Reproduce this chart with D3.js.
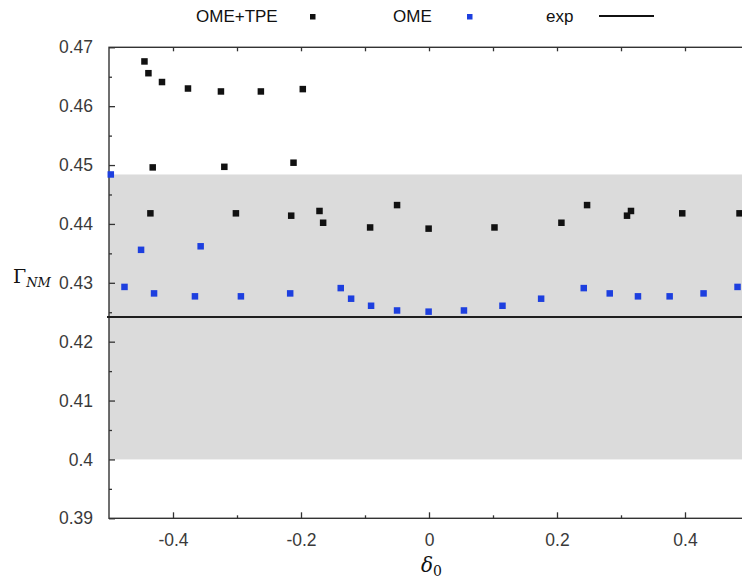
<!DOCTYPE html>
<html>
<head>
<meta charset="utf-8">
<script src="https://cdn.jsdelivr.net/npm/d3@7"></script>
<style>
  html, body { margin: 0; padding: 0; background: #fff; overflow: hidden; }
  svg { display: block; }
  .tick text { font-family: "Liberation Sans", Arial, sans-serif; font-size: 17.5px; fill: #3a3a3a; }
</style>
</head>
<body>
<svg id="chart" width="742" height="585"></svg>
<script>
// OME+TPE results
const tpeX = [-0.4446, -0.4384, -0.4172, -0.3766, -0.3251, -0.2627, -0.1972,
              -0.4317, -0.3198, -0.2117,
              -0.4353, -0.3017, -0.2153, -0.1711, -0.1654,
              -0.0920, -0.0499, -0.0006, 0.1023, 0.2069, 0.2470, 0.3094, 0.3156, 0.3957, 0.4852];
const tpeY = [0.4676, 0.4656, 0.4641, 0.4630, 0.4625, 0.4625, 0.4629,
              0.4496, 0.4497, 0.4504,
              0.4418, 0.4418, 0.4414, 0.4422, 0.4402,
              0.4394, 0.4432, 0.4392, 0.4394, 0.4402, 0.4432, 0.4414, 0.4422, 0.4418, 0.4418];

// OME results
const omeX = [-0.4972, -0.4499, -0.3568, -0.4758, -0.4296, -0.3657, -0.2939, -0.2169,
              -0.1379, -0.1217, -0.0905, -0.0499, -0.0006, 0.0546, 0.1148, 0.1752,
              0.2418, 0.2824, 0.3265, 0.3760, 0.4290, 0.4821];
const omeY = [0.4484, 0.4356, 0.4362, 0.4293, 0.4282, 0.4277, 0.4277, 0.4282,
              0.4291, 0.4273, 0.4261, 0.4253, 0.4251, 0.4253, 0.4261, 0.4273,
              0.4291, 0.4282, 0.4277, 0.4277, 0.4282, 0.4293];

// experimental value and its uncertainty band
const expValue = 0.4242;
const bandRange = [0.400, 0.4484];

// axes
const xDomain = [-0.5, 0.5];
const yDomain = [0.39, 0.47];
const xMajorTicks = [-0.4, -0.2, 0, 0.2, 0.4];
const xMinorTicks = [-0.3, -0.1, 0.1, 0.3];
const yMajorTicks = [0.39, 0.40, 0.41, 0.42, 0.43, 0.44, 0.45, 0.46, 0.47];
const yMinorTicks = [0.395, 0.405, 0.415, 0.425, 0.435, 0.445, 0.455, 0.465];

const svg = d3.select("#chart");
const plotLeft = 109, plotRight = 749, plotTop = 47.3, plotBottom = 518.3;

const x = d3.scaleLinear().domain(xDomain).range([plotLeft, plotRight]);
const y = d3.scaleLinear().domain(yDomain).range([plotBottom, plotTop]);

const fmt = d => d === 0 ? "0" : String(+d.toFixed(2));

// uncertainty band
svg.append("rect")
  .attr("x", x(xDomain[0]))
  .attr("y", y(bandRange[1]))
  .attr("width", x(xDomain[1]) - x(xDomain[0]))
  .attr("height", y(bandRange[0]) - y(bandRange[1]))
  .attr("fill", "#dbdbdb");

// frame
svg.append("rect")
  .attr("x", plotLeft).attr("y", plotTop)
  .attr("width", plotRight - plotLeft).attr("height", plotBottom - plotTop)
  .attr("fill", "none").attr("stroke", "#333").attr("stroke-width", 1.4);

function styleAxis(g) {
  g.select(".domain").remove();
  g.selectAll(".tick line").attr("stroke", "#333").attr("stroke-width", 1.3);
}

// y axis
svg.append("g").attr("transform", `translate(${plotLeft},0)`)
  .call(d3.axisLeft(y).tickValues(yMajorTicks).tickSize(-6).tickPadding(16).tickFormat(fmt))
  .call(styleAxis);
svg.append("g").attr("transform", `translate(${plotLeft},0)`)
  .call(d3.axisLeft(y).tickValues(yMinorTicks).tickSize(-3).tickFormat(""))
  .call(styleAxis);

// x axis
svg.append("g").attr("transform", `translate(0,${plotBottom})`)
  .call(d3.axisBottom(x).tickValues(xMajorTicks).tickSize(-6).tickPadding(15).tickFormat(fmt))
  .call(styleAxis);
svg.append("g").attr("transform", `translate(0,${plotBottom})`)
  .call(d3.axisBottom(x).tickValues(xMinorTicks).tickSize(-3).tickFormat(""))
  .call(styleAxis);

// top ticks
svg.append("g").attr("transform", `translate(0,${plotTop})`)
  .call(d3.axisTop(x).tickValues(xMajorTicks.concat(xMinorTicks)).tickSize(-4).tickFormat(""))
  .call(styleAxis);

// experimental line
svg.append("line")
  .attr("x1", plotLeft - 2).attr("x2", plotRight)
  .attr("y1", y(expValue)).attr("y2", y(expValue))
  .attr("stroke", "#1e1e1e").attr("stroke-width", 2);

// markers
const size = 6.5;
function drawPoints(xs, ys, color) {
  svg.append("g").selectAll("rect")
    .data(xs.map((v, i) => [v, ys[i]]))
    .join("rect")
    .attr("x", d => x(d[0]) - size / 2)
    .attr("y", d => y(d[1]) - size / 2)
    .attr("width", size).attr("height", size)
    .attr("fill", color);
}
drawPoints(tpeX, tpeY, "#111111");
drawPoints(omeX, omeY, "#1d3fdf");

// legend
const legend = svg.append("g")
  .attr("font-family", "'Liberation Sans', Arial, sans-serif")
  .attr("font-size", "17px").attr("fill", "#111");
legend.append("text").attr("x", 196).attr("y", 22).text("OME+TPE");
legend.append("rect").attr("x", 310).attr("y", 14).attr("width", 5.5).attr("height", 5.5).attr("fill", "#111111");
legend.append("text").attr("x", 393).attr("y", 22).text("OME");
legend.append("rect").attr("x", 467).attr("y", 14).attr("width", 5.5).attr("height", 5.5).attr("fill", "#1d3fdf");
legend.append("text").attr("x", 546).attr("y", 22).text("exp");
legend.append("line").attr("x1", 599).attr("x2", 654).attr("y1", 16).attr("y2", 16)
  .attr("stroke", "#111").attr("stroke-width", 2);

// axis titles
const yTitle = svg.append("text")
  .attr("x", 13).attr("y", 283)
  .attr("font-family", "'DejaVu Serif', 'Liberation Serif', serif")
  .attr("fill", "#111");
yTitle.append("tspan").attr("font-size", "19px").text("Γ");
yTitle.append("tspan").attr("font-size", "13px").attr("font-style", "italic").attr("dy", 4).text("NM");

const xTitle = svg.append("text")
  .attr("x", 421).attr("y", 572)
  .attr("font-family", "'DejaVu Serif', 'Liberation Serif', serif")
  .attr("fill", "#111");
xTitle.append("tspan").attr("font-size", "20px").attr("font-style", "italic").text("δ");
xTitle.append("tspan").attr("font-size", "14px").attr("dy", 4).text("0");
</script>
</body>
</html>
